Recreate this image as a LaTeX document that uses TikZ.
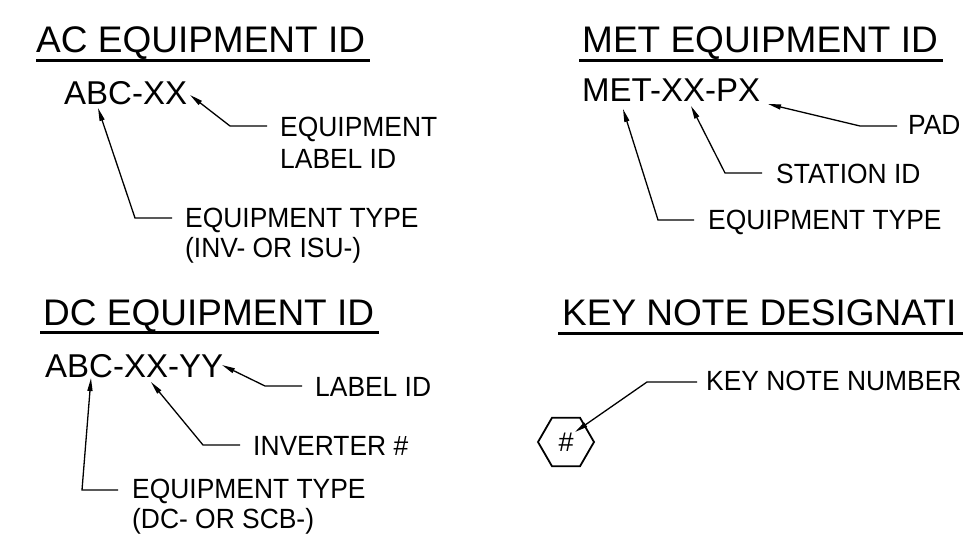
\documentclass[tikz,border=0pt]{standalone}
\usepackage{fontspec}
\setmainfont{Liberation Sans}
\newfontfamily\lblfont{Liberation Sans}[FakeStretch=0.95]
\usetikzlibrary{arrows.meta,shapes.geometric}
\begin{document}
\begin{tikzpicture}[x=1pt,y=-1pt,
  title/.style={anchor=base west,inner sep=0pt,font=\fontsize{37}{40}\selectfont},
  code/.style={anchor=base west,inner sep=0pt,font=\fontsize{33}{36}\selectfont},
  lbl/.style={anchor=base west,inner sep=0pt,font=\lblfont\fontsize{27.8}{30}\selectfont},
  uline/.style={line width=3pt},
  lead/.style={line width=1.3pt,-{Triangle[length=13pt,width=5pt]}},
  hexa/.style={regular polygon,regular polygon sides=6,minimum size=56pt,inner sep=0pt,draw,line width=1.8pt,font=\fontsize{27}{29}\selectfont}]
\useasboundingbox (0,0) rectangle (963,540);

% ---------- AC EQUIPMENT ID ----------
\node[title] (acT) at (36,53) {AC EQUIPMENT ID};
\draw[uline] (36,61) -- (370,61);
\node[code] (acC) at (64,105) {ABC-XX};
\node[lbl] (acL1) at (280,137) {EQUIPMENT};
\node[lbl] (acL1b) at (280,168) {LABEL ID};
\node[lbl] (acL2) at (185,227) {EQUIPMENT TYPE};
\node[lbl] (acL2b) at (185,257) {(INV- OR ISU-)};
\coordinate (acS1) at (267,126); \coordinate (acE1) at (230,126); \coordinate (acP1) at (190,95);
\coordinate (acS2) at (172,218); \coordinate (acE2) at (135,218); \coordinate (acP2) at (98,108);
\draw[lead] (acS1) -- (acE1) -- (acP1);
\draw[lead] (acS2) -- (acE2) -- (acP2);

% ---------- MET EQUIPMENT ID ----------
\node[title] (metT) at (582,53) {MET EQUIPMENT ID};
\draw[uline] (579,61) -- (943,61);
\node[code] (metC) at (582,102) {MET-XX-PX};
\node[lbl] (metL1) at (908,135) {PAD};
\node[lbl] (metL2) at (776,183) {STATION ID};
\node[lbl] (metL3) at (708,229) {EQUIPMENT TYPE};
\coordinate (metS1) at (897,126); \coordinate (metE1) at (860,126); \coordinate (metP1) at (768,104);
\coordinate (metS2) at (762,173); \coordinate (metE2) at (725,173); \coordinate (metP2) at (691,106);
\coordinate (metS3) at (694,220); \coordinate (metE3) at (658,220); \coordinate (metP3) at (623,109);
\draw[lead] (metS1) -- (metE1) -- (metP1);
\draw[lead] (metS2) -- (metE2) -- (metP2);
\draw[lead] (metS3) -- (metE3) -- (metP3);

% ---------- DC EQUIPMENT ID ----------
\node[title] (dcT) at (43,325) {DC EQUIPMENT ID};
\draw[uline] (40,332) -- (379,332);
\node[code] (dcC) at (45,377) {ABC-XX-YY};
\node[lbl] (dcL1) at (315,396) {LABEL ID};
\node[lbl] (dcL2) at (253,455) {INVERTER \#};
\node[lbl] (dcL3) at (132,498) {EQUIPMENT TYPE};
\node[lbl] (dcL3b) at (132,528) {(DC- OR SCB-)};
\coordinate (dcS1) at (302,386); \coordinate (dcE1) at (265,386); \coordinate (dcP1) at (222,365);
\coordinate (dcS2) at (240,445); \coordinate (dcE2) at (203,445); \coordinate (dcP2) at (151,382);
\coordinate (dcS3) at (118,490); \coordinate (dcE3) at (82,490); \coordinate (dcP3) at (91,378);
\draw[lead] (dcS1) -- (dcE1) -- (dcP1);
\draw[lead] (dcS2) -- (dcE2) -- (dcP2);
\draw[lead] (dcS3) -- (dcE3) -- (dcP3);

% ---------- KEY NOTE DESIGNATION ----------
\node[title] (keyT) at (562,325) {KEY NOTE DESIGNATI};
\draw[uline] (558,333) -- (963,333);
\node[hexa] (hex) at (566,442) {\#};
\node[lbl] (keyL) at (706,390) {KEY NOTE NUMBER};
\coordinate (keyS) at (697,382); \coordinate (keyE) at (647,382); \coordinate (keyP) at (575,432);
\draw[lead] (keyS) -- (keyE) -- (keyP);
\end{tikzpicture}
\end{document}
